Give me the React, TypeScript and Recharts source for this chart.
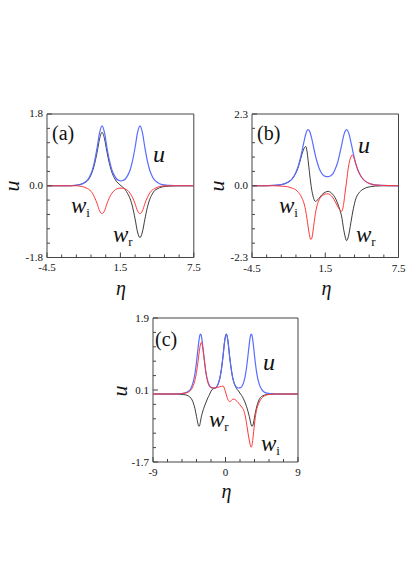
import React from "react";
import { LineChart, Line, XAxis, YAxis, ReferenceArea } from "recharts";

// panel (a)
const etaA = [-4.5, -3.5, -2.8, -2.2, -1.8, -1.4, -1.2, -1.0, -0.8, -0.6, -0.4, -0.2, 0, 0.2, 0.4, 0.6, 0.8, 1.0, 1.2, 1.4, 1.55, 1.7, 1.9, 2.1, 2.3, 2.5, 2.7, 2.9, 3.1, 3.3, 3.5, 3.7, 3.9, 4.1, 4.3, 4.5, 4.9, 5.5, 6.3, 7.5];
const uA = [0, 0, 0, 0.01, 0.03, 0.09, 0.14, 0.24, 0.39, 0.63, 0.96, 1.33, 1.5, 1.33, 0.96, 0.64, 0.4, 0.26, 0.17, 0.13, 0.12, 0.13, 0.17, 0.26, 0.4, 0.64, 0.96, 1.33, 1.5, 1.33, 0.96, 0.63, 0.39, 0.24, 0.14, 0.09, 0.03, 0.01, 0, 0];
const wrA = [0, 0, 0, 0.01, 0.03, 0.08, 0.12, 0.21, 0.35, 0.56, 0.85, 1.18, 1.34, 1.18, 0.85, 0.56, 0.34, 0.2, 0.1, 0.04, 0, -0.04, -0.1, -0.2, -0.33, -0.54, -0.83, -1.16, -1.3, -1.16, -0.84, -0.55, -0.34, -0.21, -0.12, -0.08, -0.03, -0.01, 0, 0];
const wiA = [0, 0, 0, 0, -0.01, -0.04, -0.07, -0.11, -0.18, -0.3, -0.45, -0.63, -0.7, -0.63, -0.45, -0.3, -0.19, -0.12, -0.08, -0.06, -0.06, -0.06, -0.08, -0.12, -0.19, -0.3, -0.45, -0.63, -0.7, -0.63, -0.45, -0.3, -0.18, -0.11, -0.07, -0.04, -0.01, 0, 0, 0];

// panel (b)
const etaB = [-4.5, -3.5, -2.8, -2.2, -1.8, -1.4, -1.2, -1.0, -0.8, -0.6, -0.4, -0.2, -0.1, 0, 0.1, 0.2, 0.3, 0.4, 0.5, 0.6, 0.7, 0.8, 1.0, 1.2, 1.4, 1.6, 1.75, 1.9, 2.1, 2.3, 2.5, 2.7, 2.85, 3.0, 3.1, 3.25, 3.4, 3.5, 3.6, 3.7, 3.8, 4.0, 4.2, 4.4, 4.6, 4.8, 5.2, 5.6, 6.2, 7.5];
const uB = [0, 0, 0.01, 0.03, 0.07, 0.15, 0.23, 0.35, 0.53, 0.79, 1.12, 1.49, 1.65, 1.76, 1.8, 1.76, 1.65, 1.5, 1.32, 1.13, 0.96, 0.81, 0.56, 0.4, 0.32, 0.29, 0.29, 0.31, 0.37, 0.52, 0.73, 1.05, 1.32, 1.59, 1.72, 1.8, 1.71, 1.58, 1.4, 1.22, 1.03, 0.71, 0.48, 0.32, 0.21, 0.14, 0.06, 0.025, 0.01, 0];
const wrB = [0, 0, 0.01, 0.03, 0.07, 0.15, 0.22, 0.34, 0.5, 0.74, 1.02, 1.22, 1.26, 1.12, 0.8, 0.45, 0.12, -0.15, -0.33, -0.46, -0.5, -0.48, -0.4, -0.3, -0.23, -0.19, -0.18, -0.2, -0.27, -0.38, -0.55, -0.78, -1.0, -1.38, -1.58, -1.76, -1.62, -1.42, -1.18, -0.95, -0.74, -0.42, -0.26, -0.17, -0.11, -0.07, -0.03, -0.01, 0, 0];
const wiB = [0, 0, 0, -0.01, -0.02, -0.05, -0.08, -0.11, -0.17, -0.26, -0.4, -0.62, -0.8, -1.05, -1.32, -1.56, -1.72, -1.68, -1.45, -1.15, -0.88, -0.68, -0.45, -0.34, -0.28, -0.26, -0.26, -0.29, -0.37, -0.5, -0.65, -0.78, -0.82, -0.6, -0.3, 0.15, 0.6, 0.8, 0.92, 0.99, 0.95, 0.7, 0.48, 0.32, 0.21, 0.14, 0.06, 0.025, 0.01, 0];

// panel (c)
const etaC = [-9, -7, -6, -5.5, -5, -4.6, -4.3, -4.0, -3.8, -3.6, -3.4, -3.3, -3.2, -3.1, -3.0, -2.9, -2.8, -2.6, -2.4, -2.2, -2.0, -1.8, -1.55, -1.3, -1.1, -0.9, -0.7, -0.5, -0.3, -0.1, 0.1, 0.3, 0.5, 0.7, 0.9, 1.1, 1.3, 1.6, 1.9, 2.1, 2.3, 2.5, 2.7, 2.9, 3.0, 3.1, 3.2, 3.3, 3.4, 3.5, 3.6, 3.8, 4.0, 4.2, 4.5, 4.8, 5.2, 5.6, 6.2, 7, 9];
const uC = [0, 0, 0, 0.01, 0.03, 0.07, 0.14, 0.31, 0.5, 0.8, 1.16, 1.33, 1.46, 1.5, 1.46, 1.33, 1.16, 0.8, 0.5, 0.32, 0.21, 0.17, 0.15, 0.15, 0.18, 0.26, 0.4, 0.63, 0.96, 1.33, 1.5, 1.33, 0.96, 0.64, 0.4, 0.26, 0.18, 0.15, 0.16, 0.21, 0.32, 0.51, 0.8, 1.16, 1.33, 1.46, 1.5, 1.46, 1.33, 1.16, 0.96, 0.63, 0.39, 0.24, 0.11, 0.05, 0.02, 0.01, 0, 0, 0];
const wrC = [0, 0, 0, -0.01, -0.02, -0.05, -0.1, -0.22, -0.36, -0.56, -0.76, -0.81, -0.78, -0.68, -0.57, -0.49, -0.42, -0.3, -0.2, -0.1, -0.02, 0.07, 0.13, 0.15, 0.18, 0.26, 0.4, 0.63, 0.96, 1.33, 1.5, 1.33, 0.96, 0.64, 0.4, 0.26, 0.16, 0.08, -0.01, -0.07, -0.15, -0.25, -0.37, -0.52, -0.6, -0.7, -0.78, -0.81, -0.78, -0.7, -0.58, -0.38, -0.23, -0.13, -0.06, -0.03, -0.01, 0, 0, 0, 0];
const wiC = [0, 0, 0, 0.01, 0.02, 0.05, 0.1, 0.21, 0.34, 0.54, 0.83, 0.99, 1.14, 1.25, 1.29, 1.24, 1.12, 0.8, 0.5, 0.3, 0.2, 0.16, 0.15, 0.15, 0.16, 0.17, 0.18, 0.19, 0.2, 0.12, -0.02, -0.14, -0.19, -0.17, -0.13, -0.13, -0.16, -0.22, -0.3, -0.35, -0.43, -0.6, -0.85, -1.1, -1.2, -1.3, -1.33, -1.27, -1.12, -0.93, -0.75, -0.45, -0.3, -0.2, -0.1, -0.05, -0.02, -0.01, 0, 0, 0];

// axes
const xTicksAB = [-4.5, -3.3, -2.1, -0.9, 0.3, 1.5, 2.7, 3.9, 5.1, 6.3, 7.5];
const xMajorAB = [-4.5, 1.5, 7.5];
const xLabelsAB = ["-4.5", "1.5", "7.5"];
const yTicksA = [-1.8, -1.44, -1.08, -0.72, -0.36, 0, 0.36, 0.72, 1.08, 1.44, 1.8];
const yMajorA = [-1.8, 0, 1.8];
const yLabelsA = ["-1.8", "0.0", "1.8"];
const yTicksB = [-2.3, -1.84, -1.38, -0.92, -0.46, 0, 0.46, 0.92, 1.38, 1.84, 2.3];
const yMajorB = [-2.3, 0, 2.3];
const yLabelsB = ["-2.3", "0.0", "2.3"];
const xTicksC = [-9, -7.2, -5.4, -3.6, -1.8, 0, 1.8, 3.6, 5.4, 7.2, 9];
const xMajorC = [-9, 0, 9];
const xLabelsC = ["-9", "0", "9"];
const yTicksC = [-1.7, -1.34, -0.98, -0.62, -0.26, 0.1, 0.46, 0.82, 1.18, 1.54, 1.9];
const yMajorC = [-1.7, 0.1, 1.9];
const yLabelsC = ["-1.7", "0.1", "1.9"];

const SERIF = "'Liberation Serif', 'DejaVu Serif', serif";
const FRAME = "#444";

function labelOf(v: number, majors: number[], labels: string[]) {
  const k = majors.findIndex((m) => Math.abs(m - v) < 1e-6);
  return k >= 0 ? labels[k] : null;
}

type PanelProps = {
  left: number;
  top: number;
  width: number;
  height: number;
  eta: number[];
  u: number[];
  wr: number[];
  wi: number[];
  xTicks: number[];
  xMajor: number[];
  xLabels: string[];
  yTicks: number[];
  yMajor: number[];
  yLabels: string[];
};

function Panel(p: PanelProps) {
  const data = p.eta.map((x, i) => ({ eta: x, u: p.u[i], wr: p.wr[i], wi: p.wi[i] }));
  const xd: [number, number] = [p.xTicks[0], p.xTicks[p.xTicks.length - 1]];
  const yd: [number, number] = [p.yTicks[0], p.yTicks[p.yTicks.length - 1]];

  const xTick = (t: any) => {
    const lab = labelOf(t.payload.value, p.xMajor, p.xLabels);
    return (
      <g>
        <line x1={t.x} y1={t.y} x2={t.x} y2={t.y - (lab ? 5 : 3)} stroke={FRAME} />
        {lab && (
          <text x={t.x} y={t.y + 14} textAnchor="middle" fontSize={11} fontFamily={SERIF} fill="#111">
            {lab}
          </text>
        )}
      </g>
    );
  };
  const yTick = (t: any) => {
    const lab = labelOf(t.payload.value, p.yMajor, p.yLabels);
    return (
      <g>
        <line x1={t.x} y1={t.y} x2={t.x + (lab ? 5 : 3)} y2={t.y} stroke={FRAME} />
        {lab && (
          <text x={t.x - 4} y={t.y + 3.5} textAnchor="end" fontSize={11} fontFamily={SERIF} fill="#111">
            {lab}
          </text>
        )}
      </g>
    );
  };

  return (
    <div style={{ position: "absolute", left: p.left - 40, top: p.top - 10 }}>
      <LineChart width={p.width + 50} height={p.height + 40} data={data} margin={{ top: 10, right: 10, bottom: 0, left: 0 }}>
        <XAxis
          dataKey="eta"
          type="number"
          domain={xd}
          ticks={p.xTicks}
          interval={0}
          allowDataOverflow
          axisLine={false}
          tickLine={false}
          tickSize={0}
          tickMargin={0}
          height={30}
          tick={xTick}
        />
        <YAxis
          type="number"
          domain={yd}
          ticks={p.yTicks}
          interval={0}
          allowDataOverflow
          axisLine={false}
          tickLine={false}
          tickSize={0}
          tickMargin={0}
          width={40}
          tick={yTick}
        />
        <ReferenceArea x1={xd[0]} x2={xd[1]} y1={yd[0]} y2={yd[1]} fill="none" stroke={FRAME} strokeWidth={1} />
        <Line dataKey="wr" type="monotone" stroke="#262626" strokeWidth={0.9} dot={false} activeDot={false} isAnimationActive={false} />
        <Line dataKey="u" type="monotone" stroke="#5a6cff" strokeWidth={1.2} dot={false} activeDot={false} isAnimationActive={false} />
        <Line dataKey="wi" type="monotone" stroke="#ff3838" strokeWidth={1} dot={false} activeDot={false} isAnimationActive={false} />
      </LineChart>
    </div>
  );
}

function W({ x, y, sub }: { x: number; y: number; sub: string }) {
  return (
    <text x={x} y={y} fontSize={23} fontStyle="italic" fontFamily={SERIF} fill="#111">
      w
      <tspan fontStyle="normal" fontSize={13} dy={4}>
        {sub}
      </tspan>
    </text>
  );
}

function Txt({ x, y, children, size = 24, italic = true, anchor = "start" }: any) {
  return (
    <text x={x} y={y} fontSize={size} fontStyle={italic ? "italic" : "normal"} fontFamily={SERIF} fill="#111" textAnchor={anchor}>
      {children}
    </text>
  );
}

function YTitle({ x, y }: { x: number; y: number }) {
  return (
    <text transform={`translate(${x},${y}) rotate(-90)`} dy="0.23em" textAnchor="middle" fontSize={22} fontStyle="italic" fontFamily={SERIF} fill="#111">
      u
    </text>
  );
}

export default function App() {
  return (
    <div style={{ position: "absolute", left: 0, top: 0, width: 416, height: 588, background: "#fff" }}>
      <Panel left={46.7} top={114} width={146.8} height={143.5} eta={etaA} u={uA} wr={wrA} wi={wiA}
        xTicks={xTicksAB} xMajor={xMajorAB} xLabels={xLabelsAB} yTicks={yTicksA} yMajor={yMajorA} yLabels={yLabelsA} />
      <Panel left={252} top={114} width={146.5} height={143.5} eta={etaB} u={uB} wr={wrB} wi={wiB}
        xTicks={xTicksAB} xMajor={xMajorAB} xLabels={xLabelsAB} yTicks={yTicksB} yMajor={yMajorB} yLabels={yLabelsB} />
      <Panel left={153.3} top={318} width={145} height={144} eta={etaC} u={uC} wr={wrC} wi={wiC}
        xTicks={xTicksC} xMajor={xMajorC} xLabels={xLabelsC} yTicks={yTicksC} yMajor={yMajorC} yLabels={yLabelsC} />
      <svg width={416} height={588} style={{ position: "absolute", left: 0, top: 0, pointerEvents: "none" }}>
        {/* (a) */}
        <Txt x={52} y={140} size={20} italic={false}>(a)</Txt>
        <Txt x={153} y={162}>u</Txt>
        <W x={71} y={213} sub="i" />
        <W x={113} y={242} sub="r" />
        <Txt x={121} y={295} size={20} anchor="middle">η</Txt>
        <YTitle x={14} y={186} />
        {/* (b) */}
        <Txt x={257} y={140} size={20} italic={false}>(b)</Txt>
        <Txt x={358} y={153}>u</Txt>
        <W x={279} y={213} sub="i" />
        <W x={356} y={242} sub="r" />
        <Txt x={326.5} y={295} size={20} anchor="middle">η</Txt>
        <YTitle x={218.5} y={186} />
        {/* (c) */}
        <Txt x={155} y={346} size={20} italic={false}>(c)</Txt>
        <Txt x={263} y={370}>u</Txt>
        <W x={209} y={427} sub="r" />
        <W x={261} y={451} sub="i" />
        <Txt x={226.5} y={498} size={20} anchor="middle">η</Txt>
        <YTitle x={121.5} y={391} />
      </svg>
    </div>
  );
}
